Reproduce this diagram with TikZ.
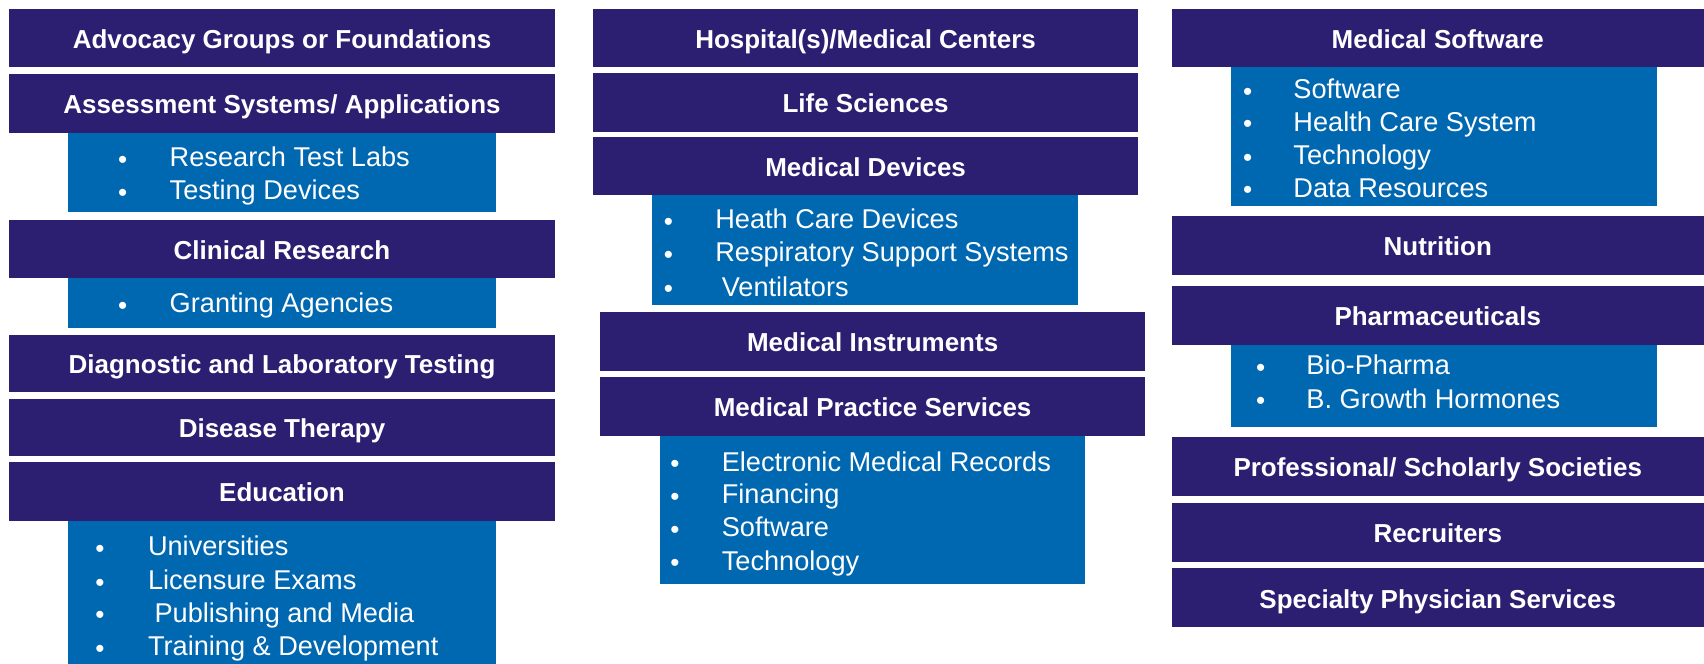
\documentclass[tikz,border=0pt]{standalone}
\usepackage{fontspec}
\setmainfont{Liberation Sans}
\definecolor{hdrcol}{RGB}{44,31,114}
\definecolor{subcol}{RGB}{0,103,177}
\tikzset{
  hdr/.style={rectangle, fill=hdrcol, inner sep=0pt, text=white,
    text height=19pt, text depth=0pt,
    font=\fontsize{23.9}{28}\selectfont\bfseries},
  sub/.style={rectangle, fill=subcol, inner sep=0pt},
  itm/.style={anchor=west, inner sep=0pt, text=white, text height=0.716em, text depth=0pt,
    font=\fontsize{25}{30}\selectfont, yshift=-5pt},
  bul/.style={anchor=center, inner sep=0pt, text=white, font=\fontsize{24}{26}\selectfont, yshift=-4.5pt},
}
\begin{document}
\begin{tikzpicture}[x=1pt,y=1pt]
\useasboundingbox (0,0) rectangle (1568,-611);
% ---------- Left column ----------
\node[hdr, minimum width=503, minimum height=54] (adv) at (259.5,-35) {Advocacy Groups or Foundations};
\node[hdr, minimum width=503, minimum height=54] (ass) at (259.5,-95) {Assessment Systems/ Applications};
\node[sub, minimum width=393, minimum height=73] (assb) at (259.5,-158.5) {};
\node[bul] (b1a) at (113,-145) {•}; \node[itm] (t1a) at (156,-145) {Research Test Labs};
\node[bul] (b1b) at (113,-175) {•}; \node[itm] (t1b) at (156,-175) {Testing Devices};
\node[hdr, minimum width=503, minimum height=54] (cli) at (259.5,-229) {Clinical Research};
\node[sub, minimum width=393, minimum height=46] (clib) at (259.5,-279) {};
\node[bul] (b2a) at (113,-279) {•}; \node[itm] (t2a) at (156,-279) {Granting Agencies};
\node[hdr, minimum width=503, minimum height=53] (dia) at (259.5,-334.5) {Diagnostic and Laboratory Testing};
\node[hdr, minimum width=503, minimum height=53] (dis) at (259.5,-393.5) {Disease Therapy};
\node[hdr, minimum width=503, minimum height=54] (edu) at (259.5,-452) {Education};
\node[sub, minimum width=393, minimum height=132] (edub) at (259.5,-545) {};
\node[bul] (b3a) at (92,-503) {•}; \node[itm] (t3a) at (136,-503) {Universities};
\node[bul] (b3b) at (92,-534) {•}; \node[itm] (t3b) at (136,-534) {Licensure Exams};
\node[bul] (b3c) at (92,-564) {•}; \node[itm] (t3c) at (142,-564) {Publishing and Media};
\node[bul] (b3d) at (92,-595) {•}; \node[itm] (t3d) at (136,-595) {Training \& Development};
% ---------- Middle column ----------
\node[hdr, minimum width=501, minimum height=54] (hos) at (796.5,-35) {Hospital(s)/Medical Centers};
\node[hdr, minimum width=501, minimum height=54] (lif) at (796.5,-94) {Life Sciences};
\node[hdr, minimum width=501, minimum height=53] (mdv) at (796.5,-152.5) {Medical Devices};
\node[sub, minimum width=392, minimum height=102] (mdvb) at (796,-230) {};
\node[bul] (b4a) at (615,-202) {•}; \node[itm] (t4a) at (658,-202) {Heath Care Devices};
\node[bul] (b4b) at (615,-232) {•}; \node[itm] (t4b) at (658,-232) {Respiratory Support Systems};
\node[bul] (b4c) at (615,-264) {•}; \node[itm] (t4c) at (664,-264) {Ventilators};
\node[hdr, minimum width=502, minimum height=54] (min) at (803,-314) {Medical Instruments};
\node[hdr, minimum width=502, minimum height=54] (mps) at (803,-374) {Medical Practice Services};
\node[sub, minimum width=391, minimum height=136] (mpsb) at (802.5,-469) {};
\node[bul] (b5a) at (621,-425) {•}; \node[itm] (t5a) at (664,-425) {Electronic Medical Records};
\node[bul] (b5b) at (621,-455) {•}; \node[itm] (t5b) at (664,-455) {Financing};
\node[bul] (b5c) at (621,-485) {•}; \node[itm] (t5c) at (664,-485) {Software};
\node[bul] (b5d) at (621,-516) {•}; \node[itm] (t5d) at (664,-516) {Technology};
% ---------- Right column ----------
\node[hdr, minimum width=490, minimum height=54] (msw) at (1323,-35) {Medical Software};
\node[sub, minimum width=392, minimum height=128] (mswb) at (1329,-126) {};
\node[bul] (b6a) at (1148,-82) {•}; \node[itm] (t6a) at (1190,-82) {Software};
\node[bul] (b6b) at (1148,-112) {•}; \node[itm] (t6b) at (1190,-112) {Health Care System};
\node[bul] (b6c) at (1148,-143) {•}; \node[itm] (t6c) at (1190,-143) {Technology};
\node[bul] (b6d) at (1148,-173) {•}; \node[itm] (t6d) at (1190,-173) {Data Resources};
\node[hdr, minimum width=490, minimum height=54] (nut) at (1323,-226) {Nutrition};
\node[hdr, minimum width=490, minimum height=54] (pha) at (1323,-290) {Pharmaceuticals};
\node[sub, minimum width=392, minimum height=76] (phab) at (1329,-355) {};
\node[bul] (b7a) at (1160,-336) {•}; \node[itm] (t7a) at (1202,-336) {Bio-Pharma};
\node[bul] (b7b) at (1160,-367) {•}; \node[itm] (t7b) at (1202,-367) {B. Growth Hormones};
\node[hdr, minimum width=490, minimum height=54] (pro) at (1323,-429) {Professional/ Scholarly Societies};
\node[hdr, minimum width=490, minimum height=54] (rec) at (1323,-490) {Recruiters};
\node[hdr, minimum width=490, minimum height=54] (spe) at (1323,-550) {Specialty Physician Services};
\end{tikzpicture}
\end{document}
